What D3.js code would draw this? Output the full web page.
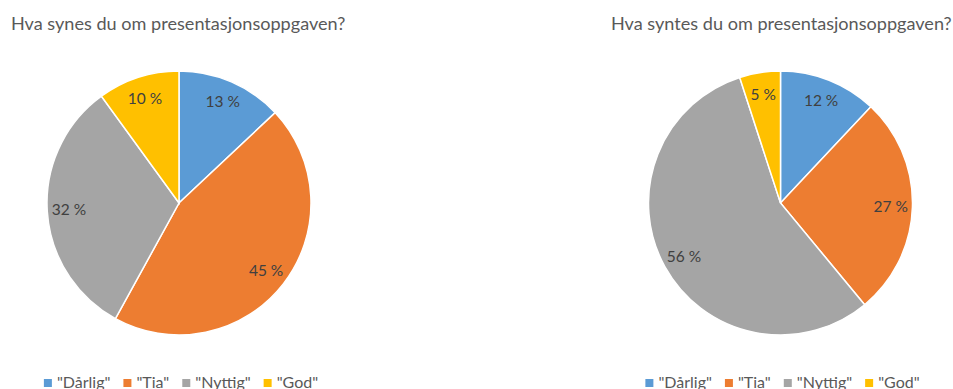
<!DOCTYPE html>
<html>
<head>
<meta charset="utf-8">
<script src="https://cdn.jsdelivr.net/npm/d3@7"></script>
<style>
  body { margin: 0; background: #fff; }
  svg { display: block; font-family: Lato, "Open Sans", sans-serif; }
</style>
</head>
<body>
<div id="chart"></div>
<script>
const categories = ['"Dårlig"', '"Tia"', '"Nyttig"', '"God"'];
const colors = ['#5B9BD5', '#ED7D31', '#A5A5A5', '#FFC000'];
const synesValues = [13, 45, 32, 10];
const syntesValues = [12, 27, 56, 5];
const titles = ['Hva synes du om presentasjonsoppgaven?', 'Hva syntes du om presentasjonsoppgaven?'];

const width = 953, height = 389;
const svg = d3.select('#chart').append('svg').attr('width', width).attr('height', height);

// one panel per survey question
const panels = [
  { title: titles[0], values: synesValues, titleX: 11, cx: 179, cy: 203 },
  { title: titles[1], values: syntesValues, titleX: 611, cx: 780.5, cy: 203 }
];

const radius = 132;
const pie = d3.pie().sort(null).value(d => d);
const arc = d3.arc().innerRadius(0).outerRadius(radius);
const labelArc = d3.arc().innerRadius(radius * 0.835).outerRadius(radius * 0.835);
const color = d3.scaleOrdinal().domain(categories).range(colors);

panels.forEach(p => {
  svg.append('text')
    .attr('x', p.titleX)
    .attr('y', 30)
    .attr('fill', '#595959')
    .style('font-size', '18.1px')
    .text(p.title);

  const g = svg.append('g').attr('transform', `translate(${p.cx},${p.cy})`);
  const arcs = pie(p.values);

  g.selectAll('path')
    .data(arcs)
    .enter().append('path')
    .attr('d', arc)
    .attr('fill', (d, i) => color(categories[i]))
    .attr('stroke', '#fff')
    .attr('stroke-width', 1.5);

  g.selectAll('text')
    .data(arcs)
    .enter().append('text')
    .attr('transform', d => `translate(${labelArc.centroid(d)})`)
    .attr('text-anchor', 'middle')
    .attr('dy', '0.35em')
    .attr('fill', '#404040')
    .style('font-size', '15.5px')
    .text(d => d.data + ' %');

  // legend, centred under the pie
  const legend = svg.append('g');
  let x = 0;
  categories.forEach((c, i) => {
    const item = legend.append('g').attr('transform', `translate(${x},0)`);
    item.append('rect')
      .attr('x', 0).attr('y', -8.5)
      .attr('width', 8).attr('height', 8)
      .attr('fill', color(c));
    const t = item.append('text')
      .attr('x', 13)
      .attr('y', 0)
      .attr('fill', '#595959')
      .style('font-size', '16px')
      .text(c);
    x += 13 + t.node().getComputedTextLength() + 13;
  });
  const w = x - 13;
  legend.attr('transform', `translate(${p.cx + 2 - w / 2},387.5)`);
});
</script>
</body>
</html>
